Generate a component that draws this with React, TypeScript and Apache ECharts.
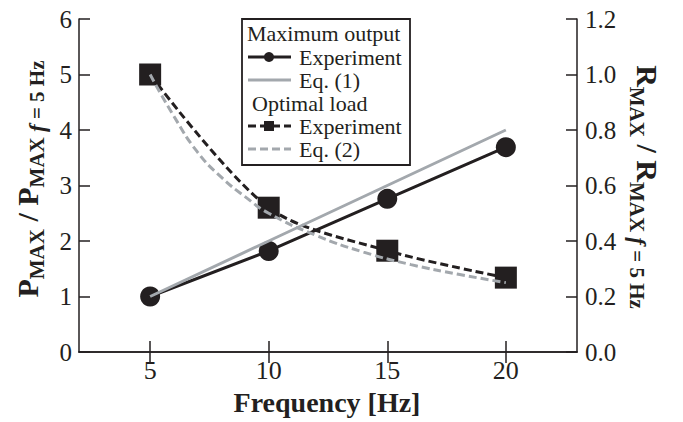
import React, { useEffect, useRef } from "react";
import * as echarts from "echarts";

const frequencies = [5, 10, 15, 20];
const maxOutputExperiment = [1.0, 1.82, 2.76, 3.69];
const maxOutputEq1 = [1.0, 2.0, 3.0, 4.0];
const optimalLoadExperiment = [1.0, 0.52, 0.365, 0.268];
const eq2Frequencies = [5, 6, 7, 8, 9, 10, 12, 14, 16, 18, 20];
const optimalLoadEq2 = [1.0, 0.85, 0.72, 0.63, 0.56, 0.5, 0.42, 0.36, 0.315, 0.28, 0.25];
const xTickValues = [5, 10, 15, 20];

const BLACK = "#231f20";
const GRAY = "#a3a8ad";
const SERIF = "'Liberation Serif', 'Times New Roman', serif";

const pairs = (xs: number[], ys: number[]) => xs.map((x, i) => [x, ys[i]]);

const labelRich = {
  b: { fontFamily: SERIF, fontWeight: "bold", fontSize: 30, height: 30, verticalAlign: "top", fill: BLACK, color: BLACK },
  s: { fontFamily: SERIF, fontWeight: "bold", fontSize: 21, height: 50, verticalAlign: "top", fill: BLACK, color: BLACK },
  i: { fontFamily: SERIF, fontWeight: "bold", fontStyle: "italic", fontSize: 23, height: 50, verticalAlign: "top", fill: BLACK, color: BLACK },
};

export default function App() {
  const ref = useRef<HTMLDivElement>(null);
  useEffect(() => {
    if (!ref.current) return;
    const chart = echarts.init(ref.current, null, { renderer: "svg" });
    const axisLine = { show: true, lineStyle: { color: BLACK, width: 1.5 } };
    const tickStyle = { color: BLACK, width: 1.5 };
    const legendTextStyle = (text: string, x: number, y: number) => ({
      type: "text",
      x,
      y,
      style: { text, font: `22px ${SERIF}`, fill: BLACK, verticalAlign: "middle", align: "left" },
    });
    const option: any = {
      animation: false,
      grid: { left: 79, right: 106, top: 19, bottom: 70 },
      xAxis: [
        {
          type: "value",
          min: 2,
          max: 23,
          axisLine,
          splitLine: { show: false },
          axisTick: { show: true, inside: true, length: 11, lineStyle: tickStyle, customValues: xTickValues },
          axisLabel: { customValues: xTickValues, fontFamily: SERIF, fontSize: 26, color: BLACK, margin: 5 },
        },
        {
          type: "value",
          position: "top",
          min: 2,
          max: 23,
          axisLine,
          splitLine: { show: false },
          axisTick: { show: true, inside: true, length: 11, lineStyle: tickStyle, customValues: xTickValues },
          axisLabel: { show: false },
        },
      ],
      yAxis: [
        {
          type: "value",
          position: "left",
          min: 0,
          max: 6,
          interval: 1,
          axisLine,
          splitLine: { show: false },
          axisTick: { show: true, inside: true, length: 11, lineStyle: tickStyle },
          axisLabel: { fontFamily: SERIF, fontSize: 25, color: BLACK, margin: 7 },
        },
        {
          type: "value",
          position: "right",
          min: 0,
          max: 1.2,
          interval: 0.2,
          axisLine,
          splitLine: { show: false },
          axisTick: { show: true, inside: true, length: 11, lineStyle: tickStyle },
          axisLabel: {
            fontFamily: SERIF,
            fontSize: 25,
            color: BLACK,
            margin: 8,
            formatter: (v: number) => v.toFixed(1),
          },
        },
      ],
      series: [
        {
          name: "Maximum output Experiment",
          type: "line",
          xAxisIndex: 0,
          yAxisIndex: 0,
          data: pairs(frequencies, maxOutputExperiment),
          symbol: "circle",
          symbolSize: 20,
          lineStyle: { color: BLACK, width: 3 },
          itemStyle: { color: BLACK },
          z: 2,
        },
        {
          name: "Optimal load Experiment",
          type: "line",
          xAxisIndex: 0,
          yAxisIndex: 1,
          data: pairs(frequencies, optimalLoadExperiment),
          symbol: "rect",
          symbolSize: 22,
          smooth: 0.3,
          lineStyle: { color: BLACK, width: 3, type: [8, 4] },
          itemStyle: { color: BLACK },
          z: 2,
        },
        {
          name: "Eq. (1)",
          type: "line",
          xAxisIndex: 0,
          yAxisIndex: 0,
          data: pairs(frequencies, maxOutputEq1),
          showSymbol: false,
          symbol: "none",
          lineStyle: { color: GRAY, width: 3 },
          z: 3,
        },
        {
          name: "Eq. (2)",
          type: "line",
          xAxisIndex: 0,
          yAxisIndex: 1,
          data: pairs(eq2Frequencies, optimalLoadEq2),
          showSymbol: false,
          symbol: "none",
          smooth: true,
          lineStyle: { color: GRAY, width: 3, type: [8, 4] },
          z: 3,
        },
      ],
      graphic: [
        {
          type: "group",
          z: 100,
          children: [
            {
              type: "rect",
              shape: { x: 242, y: 19, width: 168, height: 146 },
              style: { fill: "#ffffff", stroke: BLACK, lineWidth: 1.8 },
            },
            legendTextStyle("Maximum output", 247, 33),
            { type: "line", shape: { x1: 248, y1: 57, x2: 291, y2: 57 }, style: { stroke: BLACK, lineWidth: 3 } },
            { type: "circle", shape: { cx: 269, cy: 57, r: 5 }, style: { fill: BLACK } },
            legendTextStyle("Experiment", 299, 57),
            { type: "line", shape: { x1: 248, y1: 80, x2: 291, y2: 80 }, style: { stroke: GRAY, lineWidth: 3 } },
            legendTextStyle("Eq. (1)", 299, 80),
            legendTextStyle("Optimal load", 252, 103),
            {
              type: "line",
              shape: { x1: 248, y1: 126, x2: 291, y2: 126 },
              style: { stroke: BLACK, lineWidth: 3, lineDash: [8, 4] },
            },
            { type: "rect", shape: { x: 264, y: 121, width: 10, height: 10 }, style: { fill: BLACK } },
            legendTextStyle("Experiment", 299, 126),
            {
              type: "line",
              shape: { x1: 248, y1: 149, x2: 291, y2: 149 },
              style: { stroke: GRAY, lineWidth: 3, lineDash: [8, 4] },
            },
            legendTextStyle("Eq. (2)", 299, 149),
          ],
        },
        {
          type: "text",
          x: 37,
          y: 179,
          rotation: Math.PI / 2,
          style: {
            text: "{b|P}{s|MAX}{b| / P}{s|MAX }{i|f}{s| = 5 Hz}",
            rich: labelRich,
            align: "center",
            verticalAlign: "middle",
          },
        },
        {
          type: "text",
          x: 637,
          y: 187,
          rotation: -Math.PI / 2,
          style: {
            text: "{b|R}{s|MAX}{b| / R}{s|MAX }{i|f}{s| = 5 Hz}",
            rich: labelRich,
            align: "center",
            verticalAlign: "middle",
          },
        },
        {
          type: "text",
          x: 327,
          y: 402,
          style: {
            text: "Frequency [Hz]",
            font: `bold 28px ${SERIF}`,
            fill: BLACK,
            align: "center",
            verticalAlign: "middle",
          },
        },
      ],
    };
    chart.setOption(option);
    return () => chart.dispose();
  }, []);
  return (
    <div
      ref={ref}
      style={{ position: "fixed", left: 0, top: 0, width: 683, height: 422, background: "#ffffff" }}
    />
  );
}
